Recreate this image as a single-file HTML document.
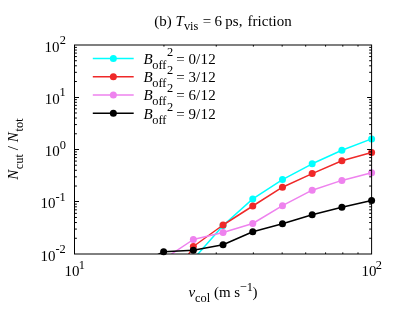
<!DOCTYPE html>
<html><head><meta charset="utf-8">
<style>
html,body{margin:0;padding:0;background:#fff;}
svg{display:block;will-change:transform;opacity:0.999;}
text{font-family:"Liberation Serif",serif;fill:#000;}
</style></head><body>
<svg width="399" height="318" viewBox="0 0 399 318">
<rect width="399" height="318" fill="#fff"/>
<defs><clipPath id="c"><rect x="74.50" y="45.00" width="301.10" height="209.00"/></clipPath></defs>

<polyline clip-path="url(#c)" points="163.63,320.00 193.34,259.30 223.05,225.50 252.76,198.90 282.47,179.60 312.18,163.80 341.89,150.20 371.60,138.90" fill="none" stroke="#00ffff" stroke-width="1.5" stroke-linejoin="round"/>
<circle cx="223.05" cy="225.50" r="3.5" fill="#00ffff"/>
<circle cx="252.76" cy="198.90" r="3.5" fill="#00ffff"/>
<circle cx="282.47" cy="179.60" r="3.5" fill="#00ffff"/>
<circle cx="312.18" cy="163.80" r="3.5" fill="#00ffff"/>
<circle cx="341.89" cy="150.20" r="3.5" fill="#00ffff"/>
<circle cx="371.60" cy="138.90" r="3.5" fill="#00ffff"/>
<polyline clip-path="url(#c)" points="163.63,296.00 193.34,246.50 223.05,225.00 252.76,206.00 282.47,187.20 312.18,173.60 341.89,160.80 371.60,152.50" fill="none" stroke="#ef2929" stroke-width="1.5" stroke-linejoin="round"/>
<circle cx="193.34" cy="246.50" r="3.5" fill="#ef2929"/>
<circle cx="223.05" cy="225.00" r="3.5" fill="#ef2929"/>
<circle cx="252.76" cy="206.00" r="3.5" fill="#ef2929"/>
<circle cx="282.47" cy="187.20" r="3.5" fill="#ef2929"/>
<circle cx="312.18" cy="173.60" r="3.5" fill="#ef2929"/>
<circle cx="341.89" cy="160.80" r="3.5" fill="#ef2929"/>
<circle cx="371.60" cy="152.50" r="3.5" fill="#ef2929"/>
<polyline clip-path="url(#c)" points="163.63,259.30 193.34,239.50 223.05,232.50 252.76,223.50 282.47,205.70 312.18,190.20 341.89,180.40 371.60,172.80" fill="none" stroke="#ee82ee" stroke-width="1.5" stroke-linejoin="round"/>
<circle cx="193.34" cy="239.50" r="3.5" fill="#ee82ee"/>
<circle cx="223.05" cy="232.50" r="3.5" fill="#ee82ee"/>
<circle cx="252.76" cy="223.50" r="3.5" fill="#ee82ee"/>
<circle cx="282.47" cy="205.70" r="3.5" fill="#ee82ee"/>
<circle cx="312.18" cy="190.20" r="3.5" fill="#ee82ee"/>
<circle cx="341.89" cy="180.40" r="3.5" fill="#ee82ee"/>
<circle cx="371.60" cy="172.80" r="3.5" fill="#ee82ee"/>
<polyline clip-path="url(#c)" points="133.92,266.50 163.63,251.70 193.34,250.30 223.05,244.80 252.76,231.70 282.47,223.80 312.18,214.70 341.89,207.20 371.60,200.40" fill="none" stroke="#000000" stroke-width="1.5" stroke-linejoin="round"/>
<circle cx="163.63" cy="251.70" r="3.5" fill="#000000"/>
<circle cx="193.34" cy="250.30" r="3.5" fill="#000000"/>
<circle cx="223.05" cy="244.80" r="3.5" fill="#000000"/>
<circle cx="252.76" cy="231.70" r="3.5" fill="#000000"/>
<circle cx="282.47" cy="223.80" r="3.5" fill="#000000"/>
<circle cx="312.18" cy="214.70" r="3.5" fill="#000000"/>
<circle cx="341.89" cy="207.20" r="3.5" fill="#000000"/>
<circle cx="371.60" cy="200.40" r="3.5" fill="#000000"/>
<g stroke="#000" stroke-width="1" fill="none">
<rect x="74.50" y="45.00" width="297.10" height="209.00"/>
<path d="M74.50 238.27h2.40 M371.60 238.27h-2.40"/>
<path d="M74.50 229.07h2.40 M371.60 229.07h-2.40"/>
<path d="M74.50 222.54h2.40 M371.60 222.54h-2.40"/>
<path d="M74.50 217.48h2.40 M371.60 217.48h-2.40"/>
<path d="M74.50 213.34h2.40 M371.60 213.34h-2.40"/>
<path d="M74.50 209.84h2.40 M371.60 209.84h-2.40"/>
<path d="M74.50 206.81h2.40 M371.60 206.81h-2.40"/>
<path d="M74.50 204.14h2.40 M371.60 204.14h-2.40"/>
<path d="M74.50 201.50h4.50 M371.60 201.50h-4.50"/>
<path d="M74.50 186.02h2.40 M371.60 186.02h-2.40"/>
<path d="M74.50 176.82h2.40 M371.60 176.82h-2.40"/>
<path d="M74.50 170.29h2.40 M371.60 170.29h-2.40"/>
<path d="M74.50 165.23h2.40 M371.60 165.23h-2.40"/>
<path d="M74.50 161.09h2.40 M371.60 161.09h-2.40"/>
<path d="M74.50 157.59h2.40 M371.60 157.59h-2.40"/>
<path d="M74.50 154.56h2.40 M371.60 154.56h-2.40"/>
<path d="M74.50 151.89h2.40 M371.60 151.89h-2.40"/>
<path d="M74.50 149.50h4.50 M371.60 149.50h-4.50"/>
<path d="M74.50 133.77h2.40 M371.60 133.77h-2.40"/>
<path d="M74.50 124.57h2.40 M371.60 124.57h-2.40"/>
<path d="M74.50 118.04h2.40 M371.60 118.04h-2.40"/>
<path d="M74.50 112.98h2.40 M371.60 112.98h-2.40"/>
<path d="M74.50 108.84h2.40 M371.60 108.84h-2.40"/>
<path d="M74.50 105.34h2.40 M371.60 105.34h-2.40"/>
<path d="M74.50 102.31h2.40 M371.60 102.31h-2.40"/>
<path d="M74.50 99.64h2.40 M371.60 99.64h-2.40"/>
<path d="M74.50 97.50h4.50 M371.60 97.50h-4.50"/>
<path d="M74.50 81.52h2.40 M371.60 81.52h-2.40"/>
<path d="M74.50 72.32h2.40 M371.60 72.32h-2.40"/>
<path d="M74.50 65.79h2.40 M371.60 65.79h-2.40"/>
<path d="M74.50 60.73h2.40 M371.60 60.73h-2.40"/>
<path d="M74.50 56.59h2.40 M371.60 56.59h-2.40"/>
<path d="M74.50 53.09h2.40 M371.60 53.09h-2.40"/>
<path d="M74.50 50.06h2.40 M371.60 50.06h-2.40"/>
<path d="M74.50 47.39h2.40 M371.60 47.39h-2.40"/>
<path d="M163.94 254.00v-1.6 M163.94 45.00v1.6"/>
<path d="M216.25 254.00v-1.6 M216.25 45.00v1.6"/>
<path d="M253.37 254.00v-1.6 M253.37 45.00v1.6"/>
<path d="M282.16 254.00v-1.6 M282.16 45.00v1.6"/>
<path d="M305.69 254.00v-1.6 M305.69 45.00v1.6"/>
<path d="M325.58 254.00v-1.6 M325.58 45.00v1.6"/>
<path d="M342.81 254.00v-1.6 M342.81 45.00v1.6"/>
<path d="M358.01 254.00v-1.6 M358.01 45.00v1.6"/>
</g>
<path d="M92.8 58.40H133.7" stroke="#00ffff" stroke-width="1.5"/>
<circle cx="113.35" cy="58.40" r="3.5" fill="#00ffff"/>
<path d="M92.8 76.70H133.7" stroke="#ef2929" stroke-width="1.5"/>
<circle cx="113.35" cy="76.70" r="3.5" fill="#ef2929"/>
<path d="M92.8 95.00H133.7" stroke="#ee82ee" stroke-width="1.5"/>
<circle cx="113.35" cy="95.00" r="3.5" fill="#ee82ee"/>
<path d="M92.8 113.30H133.7" stroke="#000000" stroke-width="1.5"/>
<circle cx="113.35" cy="113.30" r="3.5" fill="#000000"/>
<text transform="translate(143.60 63.70) scale(1 1.03)" font-size="15" font-style="italic">B</text>
<text transform="translate(152.20 68.80) scale(1 1.03)" font-size="12.4">off</text>
<text transform="translate(166.90 55.70) scale(1 1.03)" font-size="12.4">2</text>
<text transform="translate(176.30 63.70) scale(1 1.03)" font-size="15">=</text>
<text transform="translate(188.40 63.70) scale(1 1.03)" font-size="15" letter-spacing="0.2">0/12</text>
<text transform="translate(143.60 82.00) scale(1 1.03)" font-size="15" font-style="italic">B</text>
<text transform="translate(152.20 87.10) scale(1 1.03)" font-size="12.4">off</text>
<text transform="translate(166.90 74.00) scale(1 1.03)" font-size="12.4">2</text>
<text transform="translate(176.30 82.00) scale(1 1.03)" font-size="15">=</text>
<text transform="translate(188.40 82.00) scale(1 1.03)" font-size="15" letter-spacing="0.2">3/12</text>
<text transform="translate(143.60 100.30) scale(1 1.03)" font-size="15" font-style="italic">B</text>
<text transform="translate(152.20 105.40) scale(1 1.03)" font-size="12.4">off</text>
<text transform="translate(166.90 92.30) scale(1 1.03)" font-size="12.4">2</text>
<text transform="translate(176.30 100.30) scale(1 1.03)" font-size="15">=</text>
<text transform="translate(188.40 100.30) scale(1 1.03)" font-size="15" letter-spacing="0.2">6/12</text>
<text transform="translate(143.60 118.60) scale(1 1.03)" font-size="15" font-style="italic">B</text>
<text transform="translate(152.20 123.70) scale(1 1.03)" font-size="12.4">off</text>
<text transform="translate(166.90 110.60) scale(1 1.03)" font-size="12.4">2</text>
<text transform="translate(176.30 118.60) scale(1 1.03)" font-size="15">=</text>
<text transform="translate(188.40 118.60) scale(1 1.03)" font-size="15" letter-spacing="0.2">9/12</text>
<text transform="translate(154.20 25.60) scale(1 1.03)" font-size="15">(b)</text>
<text transform="translate(175.40 25.60) scale(1 1.03)" font-size="15" font-style="italic">T</text>
<text transform="translate(183.90 30.40) scale(1 1.03)" font-size="12.4">vis</text>
<text transform="translate(202.80 25.60) scale(1 1.03)" font-size="15">=</text>
<text transform="translate(214.40 25.60) scale(1 1.03)" font-size="15">6</text>
<text transform="translate(225.30 25.60) scale(1 1.03)" font-size="15">ps,</text>
<text transform="translate(247.60 25.60) scale(1 1.03)" font-size="15">friction</text>
<text transform="translate(55.40 260.80) scale(1 1.03)" font-size="15" text-anchor="end">10</text>
<text transform="translate(55.40 253.10) scale(1 1.03)" font-size="12.4">-2</text>
<text transform="translate(55.40 208.20) scale(1 1.03)" font-size="15" text-anchor="end">10</text>
<text transform="translate(55.40 201.20) scale(1 1.03)" font-size="12.4">-1</text>
<text transform="translate(59.70 156.15) scale(1 1.03)" font-size="15" text-anchor="end">10</text>
<text transform="translate(59.80 148.80) scale(1 1.03)" font-size="12.4">0</text>
<text transform="translate(59.70 104.00) scale(1 1.03)" font-size="15" text-anchor="end">10</text>
<text transform="translate(59.50 96.40) scale(1 1.03)" font-size="12.4">1</text>
<text transform="translate(59.40 52.10) scale(1 1.03)" font-size="15" text-anchor="end">10</text>
<text transform="translate(59.80 44.30) scale(1 1.03)" font-size="12.4">2</text>
<text transform="translate(64.50 276.00) scale(1 1.03)" font-size="15">10</text>
<text transform="translate(78.70 269.00) scale(1 1.03)" font-size="12.4">1</text>
<text transform="translate(361.40 275.60) scale(1 1.03)" font-size="15">10</text>
<text transform="translate(375.70 268.80) scale(1 1.03)" font-size="12.4">2</text>
<text transform="translate(188.40 296.90) scale(1 1.03)" font-size="15" font-style="italic">v</text>
<text transform="translate(195.00 302.30) scale(1 1.03)" font-size="12.4">col</text>
<text transform="translate(214.10 296.90) scale(1 1.03)" font-size="15">(m</text>
<text transform="translate(234.20 296.90) scale(1 1.03)" font-size="15">s</text>
<text transform="translate(239.80 290.50) scale(1 1.03)" font-size="12.4">−1</text>
<text transform="translate(252.60 296.90) scale(1 1.03)" font-size="15">)</text>
<g transform="translate(18.4,179.9) rotate(-90)">
<text transform="translate(0.20 0.00) scale(1 1.03)" font-size="15" font-style="italic">N</text>
<text transform="translate(10.70 5.00) scale(1 1.03)" font-size="12.4">cut</text>
<text transform="translate(29.60 0.00) scale(1 1.03)" font-size="15">/</text>
<text transform="translate(37.70 0.00) scale(1 1.03)" font-size="15" font-style="italic">N</text>
<text transform="translate(48.50 5.00) scale(1 1.03)" font-size="12.4">tot</text>
</g>
</svg></body></html>
